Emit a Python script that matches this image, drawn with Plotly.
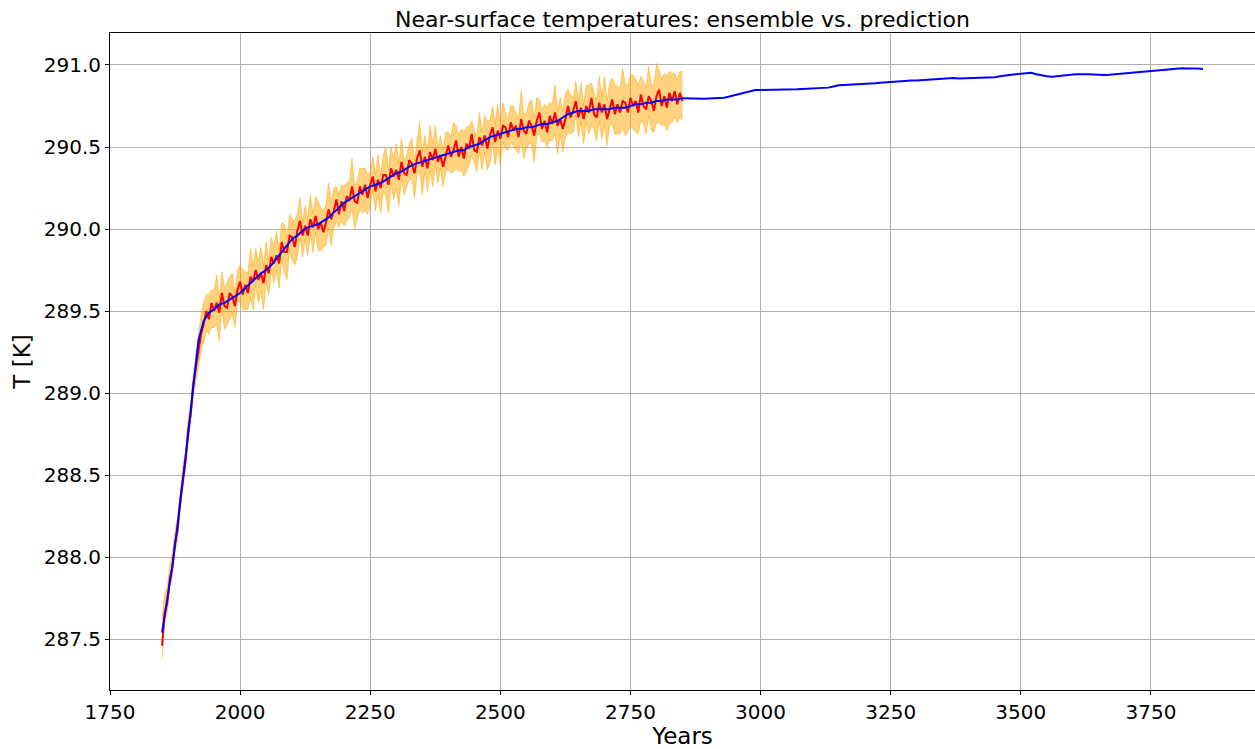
import plotly.graph_objects as go

# ensemble: 5-year samples from 1850 to 2850
ens_start, ens_step = 1850, 5
ens_mean = [
    287.46, 287.66, 287.72, 287.87, 287.94, 288.09, 288.17, 288.35, 288.47, 288.58,
    288.77, 288.87, 289.05, 289.15, 289.27, 289.36, 289.42, 289.50, 289.45, 289.55,
    289.50, 289.55, 289.49, 289.61, 289.53, 289.52, 289.61, 289.59, 289.53, 289.63,
    289.68, 289.60, 289.66, 289.61, 289.71, 289.68, 289.75, 289.69, 289.73, 289.67,
    289.78, 289.73, 289.83, 289.79, 289.84, 289.79, 289.92, 289.86, 289.86, 289.96,
    289.95, 289.89, 289.99, 290.05, 289.96, 290.02, 289.96, 290.06, 290.01, 290.08,
    290.00, 290.04, 289.98, 290.04, 290.12, 290.06, 290.11, 290.18, 290.09, 290.17,
    290.11, 290.20, 290.17, 290.26, 290.17, 290.16, 290.26, 290.21, 290.27, 290.19,
    290.27, 290.32, 290.23, 290.30, 290.25, 290.33, 290.33, 290.27, 290.37, 290.32,
    290.36, 290.30, 290.41, 290.34, 290.33, 290.42, 290.40, 290.34, 290.43, 290.48,
    290.38, 290.44, 290.37, 290.47, 290.42, 290.49, 290.41, 290.45, 290.38, 290.44,
    290.51, 290.44, 290.48, 290.54, 290.44, 290.50, 290.43, 290.52, 290.49, 290.58,
    290.48, 290.47, 290.56, 290.51, 290.57, 290.49, 290.57, 290.62, 290.53, 290.60,
    290.55, 290.63, 290.62, 290.56, 290.65, 290.60, 290.63, 290.56, 290.67, 290.60,
    290.58, 290.66, 290.63, 290.57, 290.66, 290.71, 290.61, 290.66, 290.59, 290.69,
    290.64, 290.71, 290.63, 290.67, 290.61, 290.67, 290.75, 290.68, 290.72, 290.78,
    290.68, 290.74, 290.67, 290.75, 290.71, 290.80, 290.70, 290.68, 290.77, 290.71,
    290.76, 290.67, 290.74, 290.79, 290.70, 290.76, 290.71, 290.78, 290.77, 290.71,
    290.80, 290.75, 290.78, 290.71, 290.82, 290.75, 290.73, 290.81, 290.78, 290.72,
    290.81, 290.85, 290.75, 290.81, 290.74, 290.83, 290.78, 290.84, 290.76, 290.83,
    290.78,
]
ens_upper = [
    287.62, 287.78, 287.82, 287.95, 288.03, 288.16, 288.25, 288.42, 288.56, 288.64,
    288.84, 288.95, 289.12, 289.24, 289.37, 289.48, 289.55, 289.60, 289.60, 289.63,
    289.62, 289.72, 289.58, 289.74, 289.64, 289.68, 289.71, 289.73, 289.61, 289.75,
    289.78, 289.75, 289.74, 289.73, 289.88, 289.77, 289.88, 289.80, 289.89, 289.77,
    289.92, 289.81, 289.95, 289.89, 289.99, 289.87, 290.04, 290.03, 289.95, 290.09,
    290.06, 290.05, 290.09, 290.19, 290.04, 290.14, 290.06, 290.21, 290.09, 290.20,
    290.17, 290.13, 290.11, 290.15, 290.28, 290.16, 290.25, 290.26, 290.21, 290.27,
    290.26, 290.28, 290.29, 290.43, 290.26, 290.29, 290.37, 290.37, 290.37, 290.33,
    290.35, 290.44, 290.33, 290.45, 290.33, 290.45, 290.50, 290.36, 290.50, 290.43,
    290.52, 290.40, 290.55, 290.42, 290.45, 290.52, 290.55, 290.42, 290.55, 290.65,
    290.47, 290.57, 290.48, 290.63, 290.52, 290.63, 290.49, 290.57, 290.48, 290.59,
    290.59, 290.56, 290.65, 290.63, 290.57, 290.61, 290.59, 290.62, 290.63, 290.66,
    290.60, 290.57, 290.71, 290.59, 290.69, 290.66, 290.66, 290.75, 290.64, 290.76,
    290.65, 290.77, 290.70, 290.68, 290.75, 290.75, 290.71, 290.68, 290.84, 290.69,
    290.71, 290.77, 290.79, 290.67, 290.80, 290.79, 290.73, 290.76, 290.74, 290.77,
    290.76, 290.88, 290.72, 290.80, 290.72, 290.83, 290.85, 290.82, 290.80, 290.90,
    290.78, 290.89, 290.75, 290.87, 290.88, 290.89, 290.83, 290.79, 290.93, 290.81,
    290.93, 290.78, 290.89, 290.92, 290.88, 290.87, 290.86, 290.98, 290.89, 290.87,
    290.94, 290.94, 290.91, 290.88, 290.93, 290.90, 290.86, 290.99, 290.89, 290.87,
    291.01, 290.97, 290.91, 290.95, 290.93, 290.96, 290.95, 290.95, 290.91, 290.96,
    290.96,
]
ens_lower = [
    287.38, 287.59, 287.66, 287.82, 287.88, 288.04, 288.10, 288.30, 288.41, 288.53,
    288.71, 288.82, 288.98, 289.07, 289.18, 289.26, 289.31, 289.38, 289.36, 289.40,
    289.40, 289.42, 289.32, 289.52, 289.39, 289.41, 289.45, 289.49, 289.40, 289.55,
    289.56, 289.51, 289.51, 289.51, 289.58, 289.51, 289.66, 289.55, 289.62, 289.51,
    289.68, 289.60, 289.75, 289.67, 289.75, 289.64, 289.82, 289.73, 289.69, 289.87,
    289.81, 289.78, 289.83, 289.95, 289.83, 289.94, 289.84, 289.97, 289.86, 289.98,
    289.87, 289.87, 289.89, 289.90, 290.01, 289.90, 290.01, 290.05, 290.01, 290.05,
    290.02, 290.05, 290.07, 290.13, 290.00, 290.07, 290.12, 290.10, 290.11, 290.09,
    290.14, 290.24, 290.11, 290.21, 290.10, 290.23, 290.20, 290.10, 290.28, 290.18,
    290.25, 290.14, 290.31, 290.21, 290.25, 290.30, 290.31, 290.19, 290.33, 290.35,
    290.21, 290.35, 290.23, 290.36, 290.26, 290.39, 290.28, 290.37, 290.26, 290.35,
    290.36, 290.34, 290.35, 290.37, 290.35, 290.36, 290.32, 290.36, 290.39, 290.45,
    290.40, 290.35, 290.47, 290.36, 290.47, 290.36, 290.40, 290.53, 290.39, 290.49,
    290.39, 290.53, 290.49, 290.48, 290.53, 290.51, 290.48, 290.46, 290.54, 290.43,
    290.49, 290.52, 290.52, 290.41, 290.56, 290.58, 290.53, 290.54, 290.50, 290.54,
    290.54, 290.58, 290.46, 290.58, 290.47, 290.56, 290.59, 290.58, 290.59, 290.70,
    290.56, 290.65, 290.52, 290.65, 290.58, 290.63, 290.61, 290.54, 290.66, 290.55,
    290.63, 290.51, 290.63, 290.64, 290.58, 290.58, 290.58, 290.62, 290.57, 290.59,
    290.63, 290.61, 290.59, 290.58, 290.66, 290.64, 290.58, 290.69, 290.60, 290.59,
    290.65, 290.65, 290.63, 290.64, 290.60, 290.64, 290.65, 290.68, 290.65, 290.68,
    290.66,
]

# prediction: 10-year samples from 1850 to 3850
pred_start, pred_step = 1850, 10
prediction = [
    287.54, 287.74, 287.95, 288.20, 288.46, 288.74, 289.04, 289.32, 289.44, 289.49,
    289.51, 289.54, 289.55, 289.57, 289.59, 289.61, 289.64, 289.67, 289.70, 289.73,
    289.75, 289.78, 289.82, 289.86, 289.90, 289.94, 289.96, 289.99, 290.01, 290.02,
    290.03, 290.05, 290.07, 290.10, 290.13, 290.16, 290.18, 290.20, 290.22, 290.24,
    290.26, 290.27, 290.28, 290.30, 290.32, 290.34, 290.35, 290.37, 290.39, 290.40,
    290.41, 290.42, 290.43, 290.44, 290.45, 290.46, 290.47, 290.48, 290.48, 290.50,
    290.51, 290.52, 290.54, 290.56, 290.57, 290.58, 290.59, 290.60, 290.61, 290.61,
    290.62, 290.62, 290.63, 290.64, 290.64, 290.65, 290.66, 290.68, 290.70, 290.71,
    290.72, 290.72, 290.72, 290.73, 290.73, 290.73, 290.73, 290.74, 290.74, 290.74,
    290.75, 290.76, 290.76, 290.77, 290.77, 290.78, 290.78, 290.79, 290.79, 290.79,
    290.798, 290.797, 290.795, 290.793, 290.794, 290.796, 290.797, 290.798, 290.800, 290.808,
    290.816, 290.825, 290.833, 290.840, 290.847, 290.848, 290.848, 290.848, 290.849, 290.849,
    290.850, 290.851, 290.852, 290.854, 290.855, 290.857, 290.858, 290.860, 290.862, 290.869,
    290.876, 290.878, 290.879, 290.881, 290.883, 290.884, 290.886, 290.888, 290.891, 290.894,
    290.896, 290.898, 290.900, 290.903, 290.905, 290.906, 290.908, 290.911, 290.913, 290.915,
    290.917, 290.919, 290.920, 290.918, 290.919, 290.920, 290.920, 290.921, 290.920, 290.922,
    290.926, 290.931, 290.936, 290.940, 290.943, 290.946, 290.949, 290.952, 290.944, 290.936,
    290.931, 290.929, 290.933, 290.937, 290.940, 290.942, 290.944, 290.945, 290.944, 290.942,
    290.940, 290.939, 290.941, 290.944, 290.947, 290.951, 290.954, 290.956, 290.958, 290.960,
    290.962, 290.966, 290.970, 290.974, 290.978, 290.980, 290.980, 290.979, 290.980, 290.978,
    290.976,
]

x_ticks = [1750, 2000, 2250, 2500, 2750, 3000, 3250, 3500, 3750]
y_ticks = [287.5, 288.0, 288.5, 289.0, 289.5, 290.0, 290.5, 291.0]

ens_years = [ens_start + ens_step * i for i in range(len(ens_mean))]
pred_years = [pred_start + pred_step * i for i in range(len(prediction))]

BAND = "rgba(255,165,0,0.5)"
FONT = "DejaVu Sans"

fig = go.Figure()
fig.add_trace(go.Scatter(x=ens_years, y=ens_lower, mode="lines",
                         line=dict(color=BAND, width=1), hoverinfo="skip"))
fig.add_trace(go.Scatter(x=ens_years, y=ens_upper, mode="lines", fill="tonexty",
                         fillcolor=BAND, line=dict(color=BAND, width=1),
                         hoverinfo="skip"))
fig.add_trace(go.Scatter(x=ens_years, y=ens_mean, mode="lines",
                         line=dict(color="red", width=2), name="ensemble"))
fig.add_trace(go.Scatter(x=pred_years, y=prediction, mode="lines",
                         line=dict(color="blue", width=2), name="prediction"))

axis_common = dict(
    automargin=False,
    showgrid=True, gridcolor="#b0b0b0", gridwidth=1, zeroline=False,
    showline=True, linecolor="black", linewidth=1,
    ticks="outside", ticklen=4, tickcolor="black",
    tickfont=dict(family=FONT, size=20, color="black"),
)

fig.update_layout(
    width=1255, height=749,
    margin=dict(l=110, r=0, t=33, b=59),
    paper_bgcolor="white", plot_bgcolor="white",
    showlegend=False,
    font=dict(family=FONT, color="black"),
    title=dict(text="Near-surface temperatures: ensemble vs. prediction",
               font=dict(family=FONT, size=22, color="black"),
               x=0.5, xref="paper", xanchor="center",
               y=1 - 19 / 749, yref="container", yanchor="middle"),
    xaxis=dict(range=[1750, 3950], tickvals=x_ticks, mirror=True,
               title=dict(text="Years", font=dict(family=FONT, size=23), standoff=2),
               **axis_common),
    yaxis=dict(range=[287.19, 291.195], tickvals=y_ticks, tickformat=".1f",
               title=dict(text="T [K]", font=dict(family=FONT, size=23), standoff=6),
               **axis_common),
)

# drop the default page margin so the figure sits at the window's corner
fig.write_html("out.html",
               config={"displayModeBar": False},
               post_script="document.body.style.margin='0';"
                           "document.body.style.overflow='hidden';")
